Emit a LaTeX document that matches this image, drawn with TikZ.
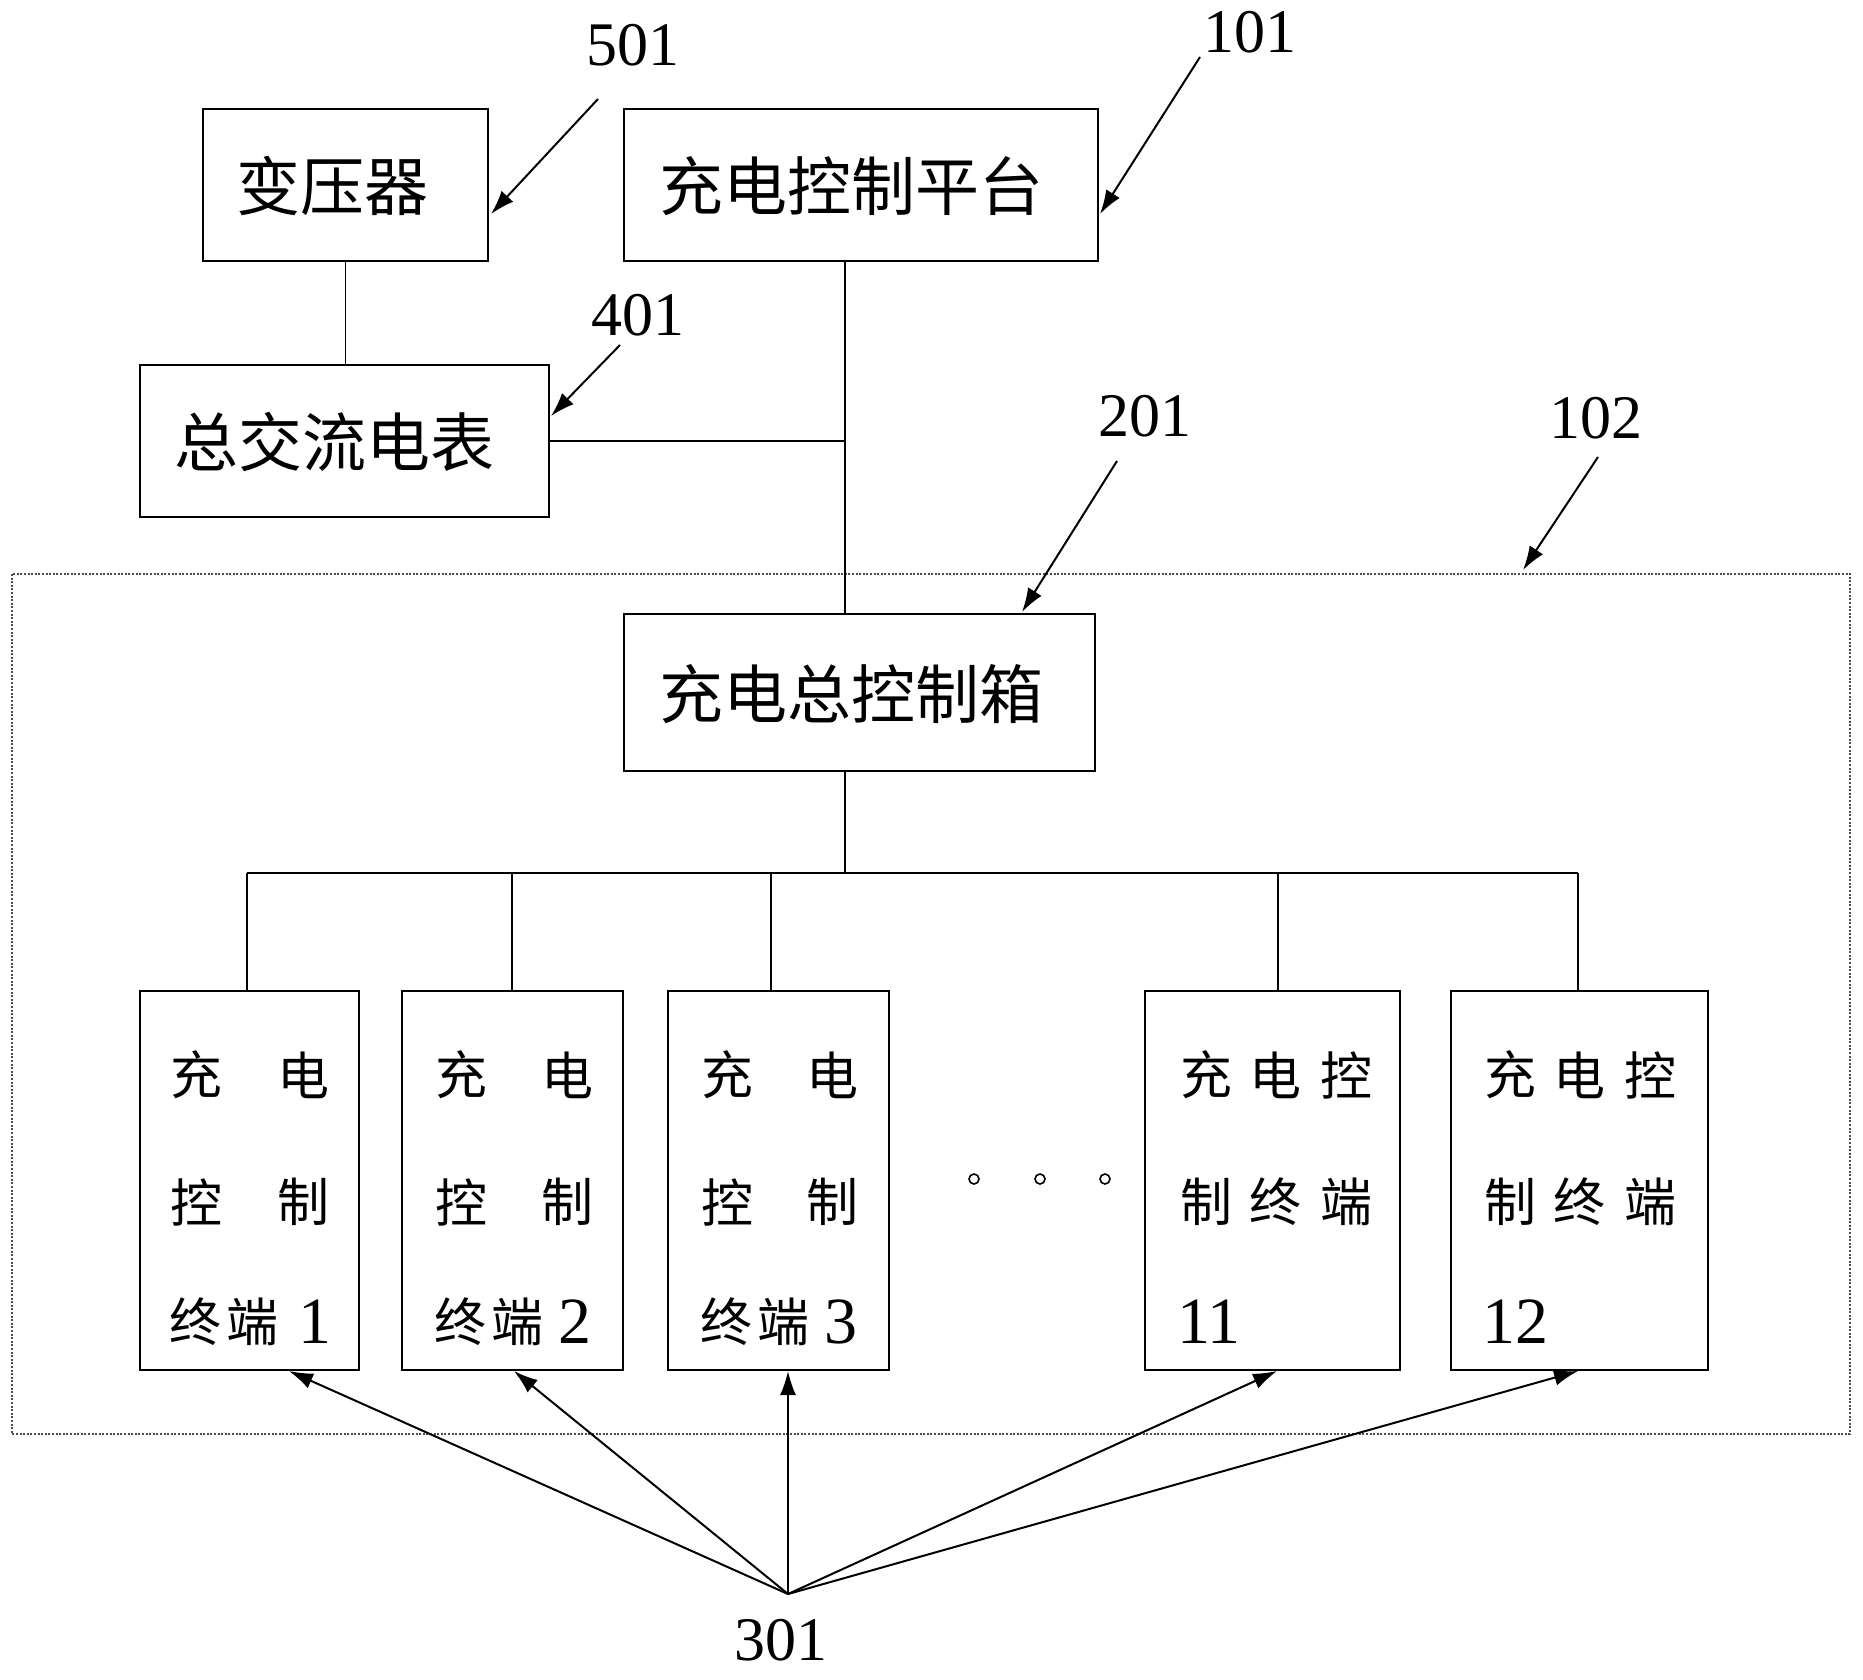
\documentclass[tikz,border=0pt]{standalone}
\usepackage{fontspec}
\setmainfont{Liberation Serif}
\newfontfamily\cjk{Noto Sans CJK SC}
\usetikzlibrary{arrows.meta}
\begin{document}
\begin{tikzpicture}[x=0.5pt,y=-0.5pt,
  box/.style={draw=black, line width=1pt, inner sep=0pt},
  boxtext/.style={inner sep=0pt, font=\cjk\fontsize{32}{36}\selectfont},
  term/.style={draw=black, line width=1pt, inner sep=0pt, minimum height=189.5pt},
  wire/.style={draw=black, line width=0.8pt},
  lead/.style={draw=black, line width=1pt, -{Latex[length=12pt,width=8pt]}},
  num/.style={inner sep=0pt, font=\fontsize{31}{34}\selectfont},
  ch/.style={inner sep=0pt, font=\cjk\fontsize{26}{30}\selectfont},
  dg/.style={inner sep=0pt, font=\fontsize{33}{36}\selectfont},
  group/.style={draw=black!70, line width=0.7pt, dash pattern=on 1pt off 0.8pt}]
\useasboundingbox (0,0) rectangle (1863,1680);
\fill[white] (0,0) rectangle (1863,1680);

% group frame
\draw[group] (12,574) rectangle (1850,1434);

% top boxes
\node[box, minimum width=142.5pt, minimum height=76pt] (tr) at (345.5,185) {};
\node[boxtext] (trt) at (332,186) {变压器};
\node[box, minimum width=237pt, minimum height=76pt] (plat) at (861,185) {};
\node[boxtext] (platt) at (851,186) {充电控制平台};
\node[box, minimum width=204.5pt, minimum height=76pt] (meter) at (344.5,441) {};
\node[boxtext] (metert) at (334,442) {总交流电表};
\node[box, minimum width=235.5pt, minimum height=78.5pt] (ctrl) at (859.5,692.5) {};
\node[boxtext] (ctrlt) at (851,694) {充电总控制箱};

% terminals
\node[term, minimum width=109.5pt] (t1) at (249.5,1180.5) {};
\node[term, minimum width=110.5pt] (t2) at (512.5,1180.5) {};
\node[term, minimum width=110.5pt] (t3) at (778.5,1180.5) {};
\node[term, minimum width=127.5pt] (t11) at (1272.5,1180.5) {};
\node[term, minimum width=128.5pt] (t12) at (1579.5,1180.5) {};

% terminal texts
\node[ch] (a1) at (196,1075) {充}; \node[ch] (b1) at (303,1075) {电};
\node[ch] (c1) at (196,1202) {控}; \node[ch] (d1) at (303,1202) {制};
\node[ch] (e1) at (195,1322) {终}; \node[ch] (f1) at (252,1322) {端};
\node[dg] (g1) at (315,1322) {1};

\node[ch] (a2) at (461,1075) {充}; \node[ch] (b2) at (567,1075) {电};
\node[ch] (c2) at (461,1202) {控}; \node[ch] (d2) at (567,1202) {制};
\node[ch] (e2) at (460,1322) {终}; \node[ch] (f2) at (517,1322) {端};
\node[dg] (g2) at (575,1322) {2};

\node[ch] (a3) at (727,1075) {充}; \node[ch] (b3) at (832,1075) {电};
\node[ch] (c3) at (727,1202) {控}; \node[ch] (d3) at (832,1202) {制};
\node[ch] (e3) at (726,1322) {终}; \node[ch] (f3) at (783,1322) {端};
\node[dg] (g3) at (841,1322) {3};

\node[ch] (a11) at (1206,1075) {充}; \node[ch] (b11) at (1275,1075) {电}; \node[ch] (c11) at (1346,1075) {控};
\node[ch] (d11) at (1206,1202) {制}; \node[ch] (e11) at (1275,1202) {终}; \node[ch] (f11) at (1346,1202) {端};
\node[dg, anchor=west] (g11) at (1177,1322) {11};

\node[ch] (a12) at (1510,1075) {充}; \node[ch] (b12) at (1579,1075) {电}; \node[ch] (c12) at (1650,1075) {控};
\node[ch] (d12) at (1510,1202) {制}; \node[ch] (e12) at (1579,1202) {终}; \node[ch] (f12) at (1650,1202) {端};
\node[dg, anchor=west] (g12) at (1482,1322) {12};

% ellipsis dots
\foreach \x in {974,1040,1105} \draw[line width=0.8pt] (\x,1179) circle (5);

% wiring
\coordinate (j) at (845,441);
\draw[wire] (tr.south) -- (tr.south |- meter.north);
\draw[wire] (j |- plat.south) -- (j |- ctrl.north);
\draw[wire] (meter.east) -- (j);
\coordinate (bus) at (845,873);
\draw[wire] (j |- ctrl.south) -- (bus);
\draw[wire] (247,873) -- (1578,873);
\foreach \x/\n in {247/t1,512/t2,771/t3,1278/t11,1578/t12}
  \draw[wire] (\x,873) -- (\x,991);

% labels
\node[num] (l501) at (633,45) {501};
\node[num] (l101) at (1250,32) {101};
\node[num] (l401) at (638,315) {401};
\node[num] (l201) at (1145,416) {201};
\node[num] (l102) at (1596,418) {102};
\node[num] (l301) at (781,1640) {301};

\coordinate (s501) at (598,99);  \coordinate (e501) at (491,214);
\coordinate (s101) at (1200,57); \coordinate (e101) at (1100,214);
\coordinate (s401) at (620,345); \coordinate (e401) at (551,416);
\coordinate (s201) at (1117,461); \coordinate (e201) at (1022,612);
\coordinate (s102) at (1598,457); \coordinate (e102) at (1523,570);
\draw[lead] (s501) -- (e501);
\draw[lead] (s101) -- (e101);
\draw[lead] (s401) -- (e401);
\draw[lead] (s201) -- (e201);
\draw[lead] (s102) -- (e102);

% 301 fan
\coordinate (hub) at (788,1594);
\draw[lead] (hub) -- (289,1371);
\draw[lead] (hub) -- (514,1371);
\draw[lead] (hub) -- (788,1371);
\draw[lead] (hub) -- (1277,1371);
\draw[lead] (hub) -- (1578,1371);
\end{tikzpicture}
\end{document}
